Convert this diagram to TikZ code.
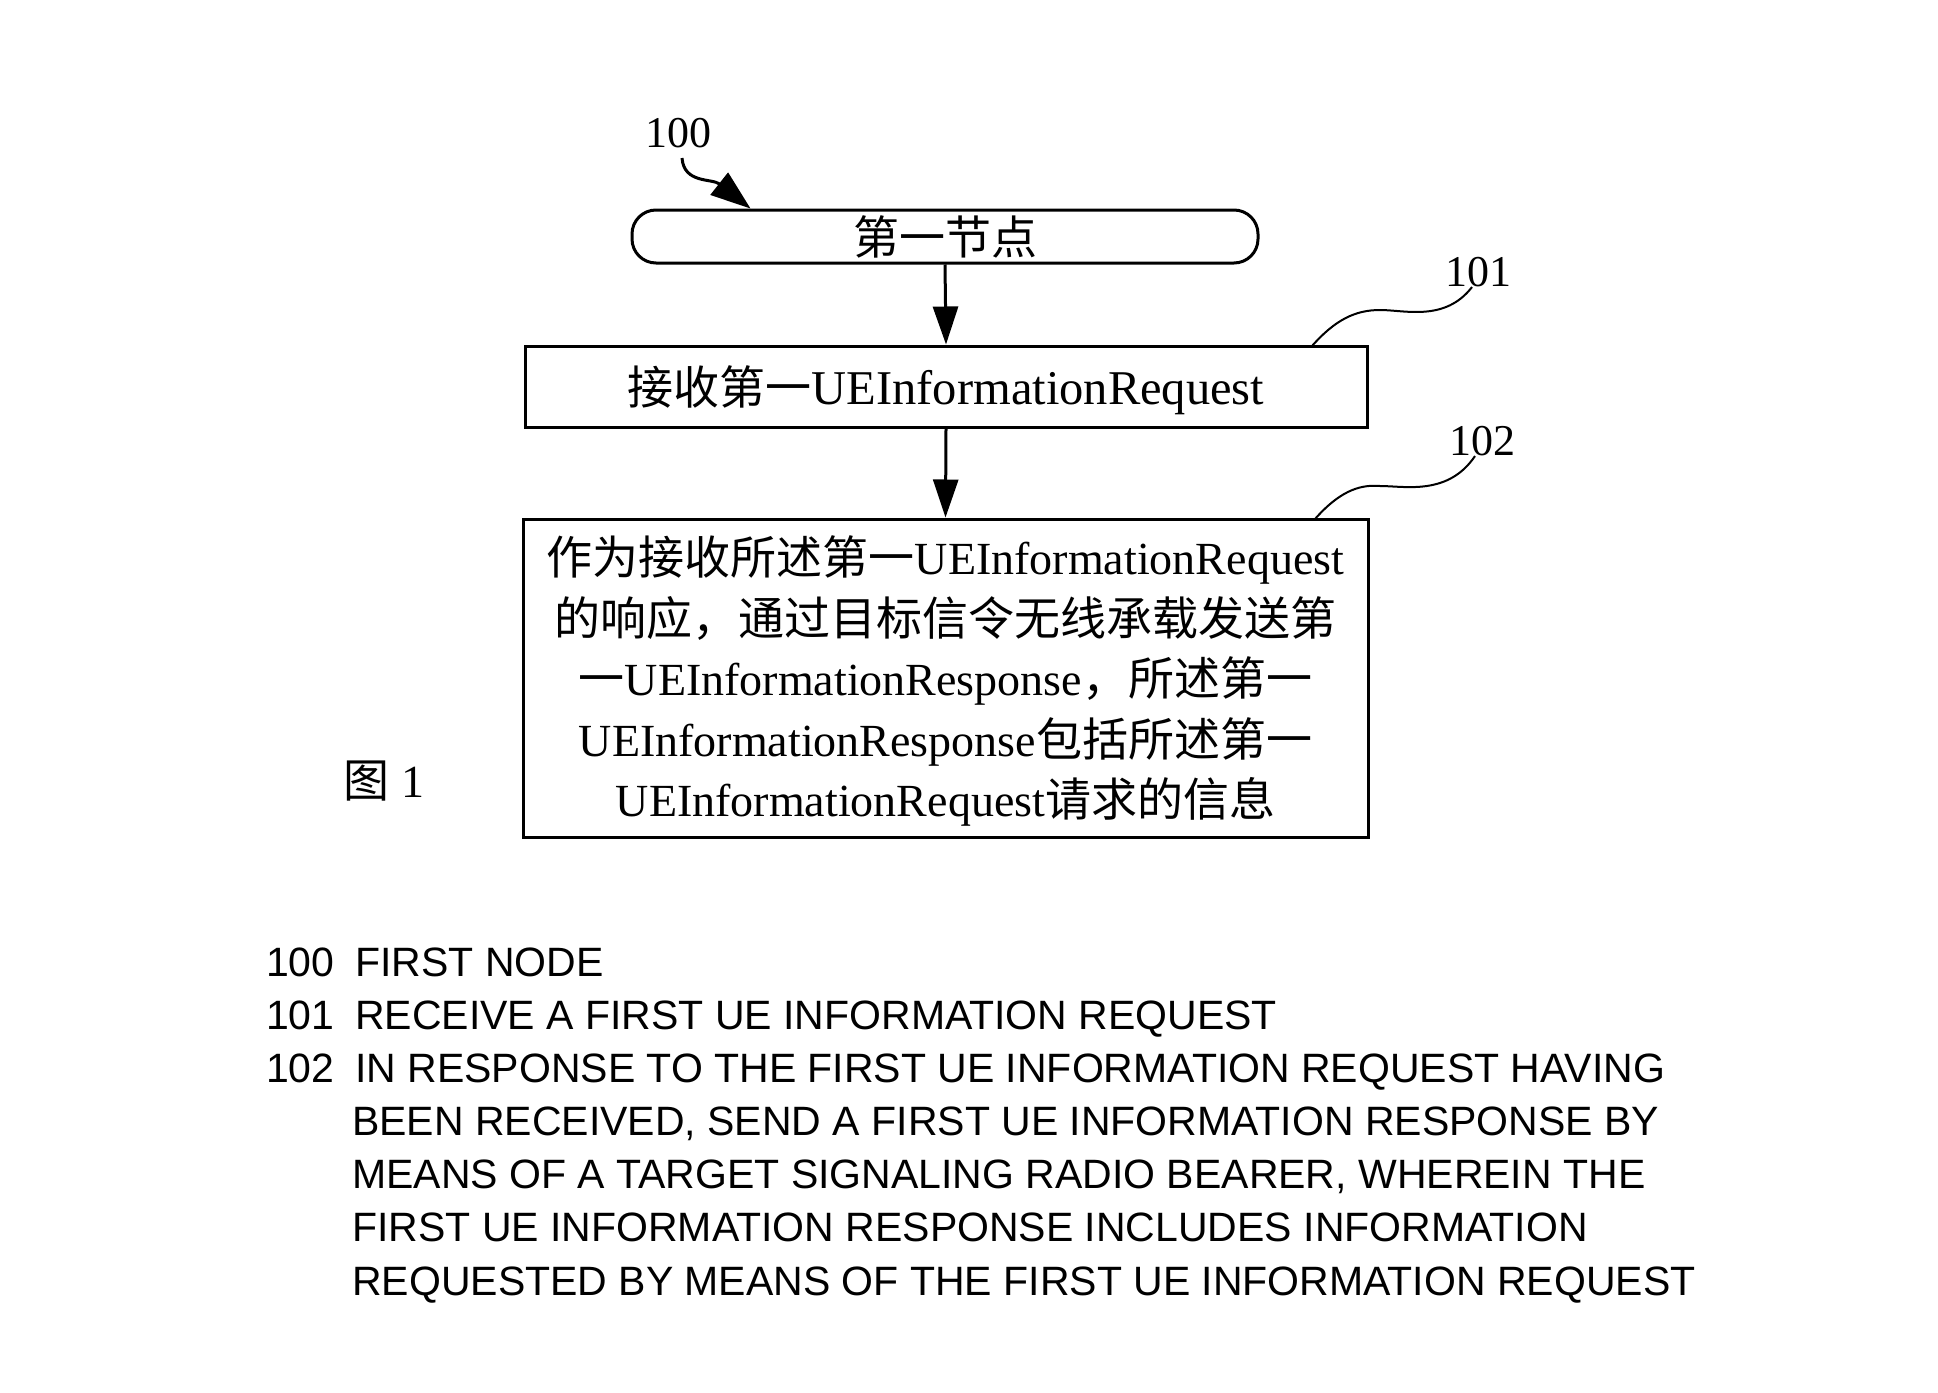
\documentclass[tikz,border=0pt]{standalone}
\usepackage{fontspec}
\setmainfont{Liberation Serif}
\setsansfont{Liberation Sans}
\newfontfamily\cjkfont{Noto Sans CJK SC}
\usetikzlibrary{arrows.meta}
\newcommand\cj[1]{{\cjkfont #1}}
\begin{document}
\begin{tikzpicture}[x=1pt,y=-1pt,
  box/.style={draw,line width=3pt,inner sep=0pt,align=center,font=\fontsize{46}{60.5}\selectfont},
  flow/.style={line width=3pt,-{Triangle[length=38pt,width=25pt]}},
  leader/.style={line width=2pt},
  refnum/.style={inner sep=0pt,font=\fontsize{44}{50}\selectfont},
  legend/.style={inner sep=0pt,anchor=base west,font=\sffamily\fontsize{41}{50}\selectfont}]
\useasboundingbox[fill=white] (0,0) rectangle (1938,1392);

% flow nodes
\node[box,rounded corners=24pt,minimum width=626pt,minimum height=53pt] (rb) at (945,236.5) {\cj{第一节点}};
\node[box,minimum width=842pt,minimum height=81pt] (b101) at (946,386.5) {\raisebox{-3.5pt}[\height][\depth]{\cj{接收第一}{\fontsize{48.5}{50}\selectfont UEInformationRequest}}};
\node[box,minimum width=845pt,minimum height=318pt] (b102) at (945.5,678) {%
\raisebox{-3pt}[\height][\depth]{\parbox{840pt}{\centering
\cj{作为接收所述第一}UEInformationRequest\\
\cj{的响应，通过目标信令无线承载发送第}\\
\cj{一}UEInformationResponse\cj{，所述第一}\\
UEInformationResponse\cj{包括所述第一}\\
UEInformationRequest\cj{请求的信息}}}};

\draw[flow] (rb.south) -- (b101.north);
\draw[flow] (b101.south) -- (b102.north);

% reference numerals
\node[refnum] (l100) at (678,133) {100};
\node[refnum] (l101) at (1478,272) {101};
\node[refnum] (l102) at (1482,441) {102};

\coordinate (s100) at (682,158);
\draw[line width=3pt,-{Triangle[length=40pt,width=28pt]}] (s100) .. controls (684,184) and (712,178) .. ([xshift=120pt]rb.north west);

\coordinate (s101) at (1312,346);
\coordinate (m101) at (1380,310);
\draw[leader] (s101) .. controls (1335,320) and (1355,310) .. (m101) .. controls (1405,310) and (1445,322) .. ([xshift=-6pt]l101.south);

\coordinate (s102) at (1315,519);
\coordinate (m102) at (1380,486);
\draw[leader] (s102) .. controls (1338,493) and (1358,484) .. (m102) .. controls (1405,486) and (1448,496) .. ([xshift=-7pt]l102.south);

% figure label
\node[inner sep=0pt,font=\fontsize{46}{50}\selectfont] (fig) at (384,781) {\cj{图} 1};

% legend
\node[legend] (n100) at (266,976) {100};
\node[legend] (t100) at (355,976) {FIRST NODE};
\node[legend] (n101) at (266,1029) {101};
\node[legend] (t101) at (355,1029) {RECEIVE A FIRST UE INFORMATION REQUEST};
\node[legend] (n102) at (266,1082) {102};
\node[legend] (t102a) at (355,1082) {IN RESPONSE TO THE FIRST UE INFORMATION REQUEST HAVING};
\node[legend] (t102b) at (352,1135) {BEEN RECEIVED, SEND A FIRST UE INFORMATION RESPONSE BY};
\node[legend] (t102c) at (352,1188) {MEANS OF A TARGET SIGNALING RADIO BEARER, WHEREIN THE};
\node[legend] (t102d) at (352,1241) {FIRST UE INFORMATION RESPONSE INCLUDES INFORMATION};
\node[legend] (t102e) at (352,1295) {REQUESTED BY MEANS OF THE FIRST UE INFORMATION REQUEST};
\end{tikzpicture}
\end{document}
